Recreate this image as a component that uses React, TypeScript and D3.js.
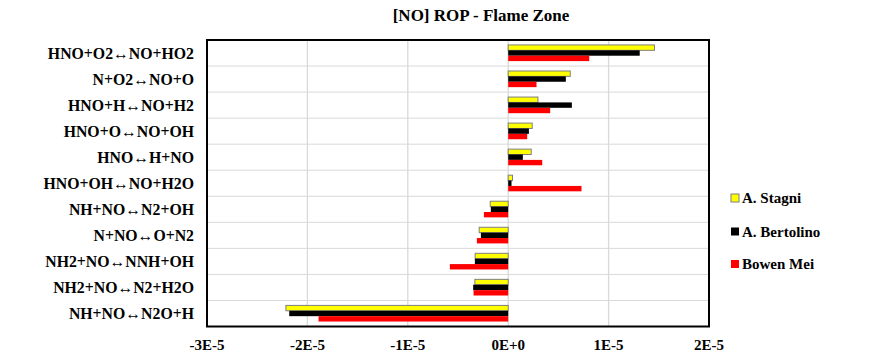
import React from "react";
import * as d3 from "d3";

const categories = [
  "HNO+O2↔NO+HO2",
  "N+O2↔NO+O",
  "HNO+H↔NO+H2",
  "HNO+O↔NO+OH",
  "HNO↔H+NO",
  "HNO+OH↔NO+H2O",
  "NH+NO↔N2+OH",
  "N+NO↔O+N2",
  "NH2+NO↔NNH+OH",
  "NH2+NO↔N2+H2O",
  "NH+NO↔N2O+H",
];

const stagni = [1.457e-5, 0.618e-5, 0.296e-5, 0.239e-5, 0.229e-5, 0.043e-5, -0.179e-5, -0.289e-5, -0.329e-5, -0.332e-5, -2.214e-5];
const bertolino = [1.31e-5, 0.574e-5, 0.634e-5, 0.206e-5, 0.146e-5, 0.033e-5, -0.173e-5, -0.272e-5, -0.332e-5, -0.349e-5, -2.181e-5];
const mei = [0.807e-5, 0.282e-5, 0.418e-5, 0.189e-5, 0.339e-5, 0.73e-5, -0.242e-5, -0.312e-5, -0.581e-5, -0.345e-5, -1.889e-5];

const seriesNames = ["A. Stagni", "A. Bertolino", "Bowen Mei"];
const xTicks = [-3e-5, -2e-5, -1e-5, 0, 1e-5, 2e-5];
const xTickLabels = ["-3E-5", "-2E-5", "-1E-5", "0E+0", "1E-5", "2E-5"];

const W = 874;
const H = 360;
const FONT = "'Liberation Serif', 'Times New Roman', serif";

export default function App() {
  const left = 207;
  const right = 709;
  const top = 40;
  const bottom = 326.5;

  const x = d3.scaleLinear().domain([-3e-5, 2e-5]).range([left, right]);
  const y = d3
    .scaleBand<string>()
    .domain(categories)
    .range([top, bottom])
    .paddingInner(0.38)
    .paddingOuter(0.19);
  const bw = y.bandwidth() / 3;

  const series = [
    { name: seriesNames[0], values: stagni, fill: "#ffff00", stroke: "#7f7f7f" },
    { name: seriesNames[1], values: bertolino, fill: "#000000", stroke: "none" },
    { name: seriesNames[2], values: mei, fill: "#ff0000", stroke: "none" },
  ];

  const rowStep = (bottom - top) / categories.length;

  return (
    <div style={{ position: "absolute", left: 0, top: 0 }}>
      <svg width={W} height={H} style={{ display: "block", background: "#fff" }}>
        <text x={481} y={21} textAnchor="middle" fontFamily={FONT} fontWeight="bold" fontSize={17}>
          [NO] ROP - Flame Zone
        </text>
        {categories.map((c, i) =>
          i === 0 ? null : (
            <line key={"h" + i} x1={left} x2={right} y1={top + i * rowStep} y2={top + i * rowStep} stroke="#d9d9d9" strokeWidth={1} />
          )
        )}
        {xTicks.map((t, i) => (
          <line key={"v" + i} x1={x(t)} x2={x(t)} y1={top} y2={bottom} stroke="#d9d9d9" strokeWidth={1.3} />
        ))}
        {series.map((s, si) =>
          s.values.map((v, i) => {
            const x0 = Math.min(x(0), x(v));
            const w = Math.abs(x(v) - x(0));
            const yy = (y(categories[i]) as number) + si * bw;
            return (
              <rect
                key={s.name + i}
                x={x0}
                y={yy}
                width={w}
                height={bw}
                fill={s.fill}
                stroke={s.stroke}
                strokeWidth={s.stroke === "none" ? 0 : 1}
              />
            );
          })
        )}
        <rect x={left} y={top} width={right - left} height={bottom - top} fill="none" stroke="#000" strokeWidth={2} />
        {categories.map((c, i) => (
          <text
            key={"c" + i}
            x={194}
            y={top + (i + 0.5) * rowStep}
            dy="0.35em"
            textAnchor="end"
            fontFamily={FONT}
            fontWeight="bold"
            fontSize={15.8}
          >
            {c}
          </text>
        ))}
        {xTicks.map((t, i) => (
          <text key={"t" + i} x={x(t)} y={345} dy="0.35em" textAnchor="middle" fontFamily={FONT} fontWeight="bold" fontSize={15}>
            {xTickLabels[i]}
          </text>
        ))}
        {series.map((s, i) => {
          const ly = [198, 231.5, 264][i];
          return (
            <g key={"l" + i}>
              <rect
                x={731}
                y={ly - 4}
                width={8}
                height={8}
                fill={s.fill}
                stroke={s.stroke === "none" ? "none" : "#7f7f7f"}
                strokeWidth={1}
              />
              <text x={742} y={ly} dy="0.35em" fontFamily={FONT} fontWeight="bold" fontSize={15}>
                {s.name}
              </text>
            </g>
          );
        })}
      </svg>
    </div>
  );
}
